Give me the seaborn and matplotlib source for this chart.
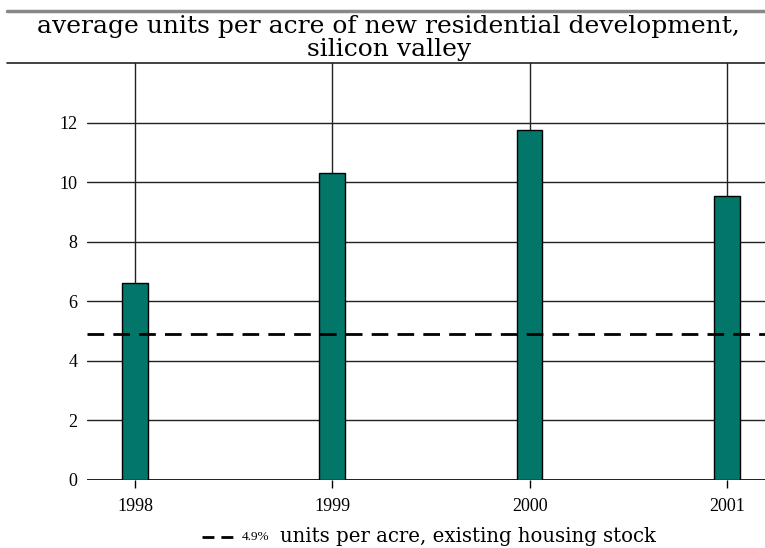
import matplotlib
matplotlib.use("Agg")
import matplotlib.pyplot as plt
from matplotlib.lines import Line2D
import seaborn as sns
import pandas as pd

years = ["1998", "1999", "2000", "2001"]
units_per_acre = [6.6, 10.3, 11.75, 9.55]
existing_stock = 4.9
yticks = [0, 2, 4, 6, 8, 10, 12]
title_text = "average units per acre of new residential development,\nsilicon valley"
legend_small = "4.9%"
legend_text = "units per acre, existing housing stock"

sns.set_theme(style="white")
plt.rcParams["font.family"] = ["Liberation Serif", "DejaVu Serif"]
plt.rcParams["text.color"] = "black"
plt.rcParams["xtick.color"] = "black"
plt.rcParams["ytick.color"] = "black"

df = pd.DataFrame({"year": years, "units": units_per_acre})

fig = plt.figure(figsize=(7.65, 5.48), dpi=100)
ax = fig.add_axes([87/765, 1-480/548, 1-87/765, (480-63)/548])

sns.barplot(data=df, x="year", y="units", color="#03766A", width=0.13,
            edgecolor="black", linewidth=1, saturation=1, ax=ax, zorder=3)

ax.axhline(existing_stock, color="black", lw=2, ls=(0, (6, 3.3)), zorder=4)

ax.set_ylim(0, 14)
ax.set_xlim(-0.243, 3.193)
ax.set_yticks(yticks)
ax.set_yticklabels([str(t) for t in yticks], fontsize=13)
ax.set_xticklabels(years, fontsize=13)
ax.set_xlabel("")
ax.set_ylabel("")
ax.grid(True, axis="both", color="#222222", lw=1, zorder=0)
ax.set_axisbelow(True)
for s in ax.spines.values():
    s.set_visible(False)
ax.tick_params(axis="x", bottom=True, length=6, width=1, color="black", pad=7)
ax.tick_params(axis="y", left=False, length=0, pad=7)
ax.axhline(0, color="black", lw=1.2, zorder=2)

# figure rules
fig.add_artist(Line2D([7/765, 1], [1-11/548, 1-11/548], color="#888888", lw=2.5))
fig.add_artist(Line2D([7/765, 1], [1-63/548, 1-63/548], color="#222222", lw=1.2))

fig.text(0.508, 1-15/548, title_text, ha="center", va="top", fontsize=18,
         family="DejaVu Serif", linespacing=0.98, multialignment="center",
         color="black")

# legend
fig.add_artist(Line2D([202/765, 233/765], [1-537/548, 1-537/548], color="black",
                      lw=2, ls=(0, (4.3, 2.5))))
fig.text(242/765, 1-537/548, legend_small, ha="left", va="center", fontsize=9.5,
         color="black")
fig.text(280/765, 1-537/548, legend_text, ha="left", va="center", fontsize=14.2,
         family="DejaVu Serif", color="black")

fig.savefig("out.png", dpi=100)
